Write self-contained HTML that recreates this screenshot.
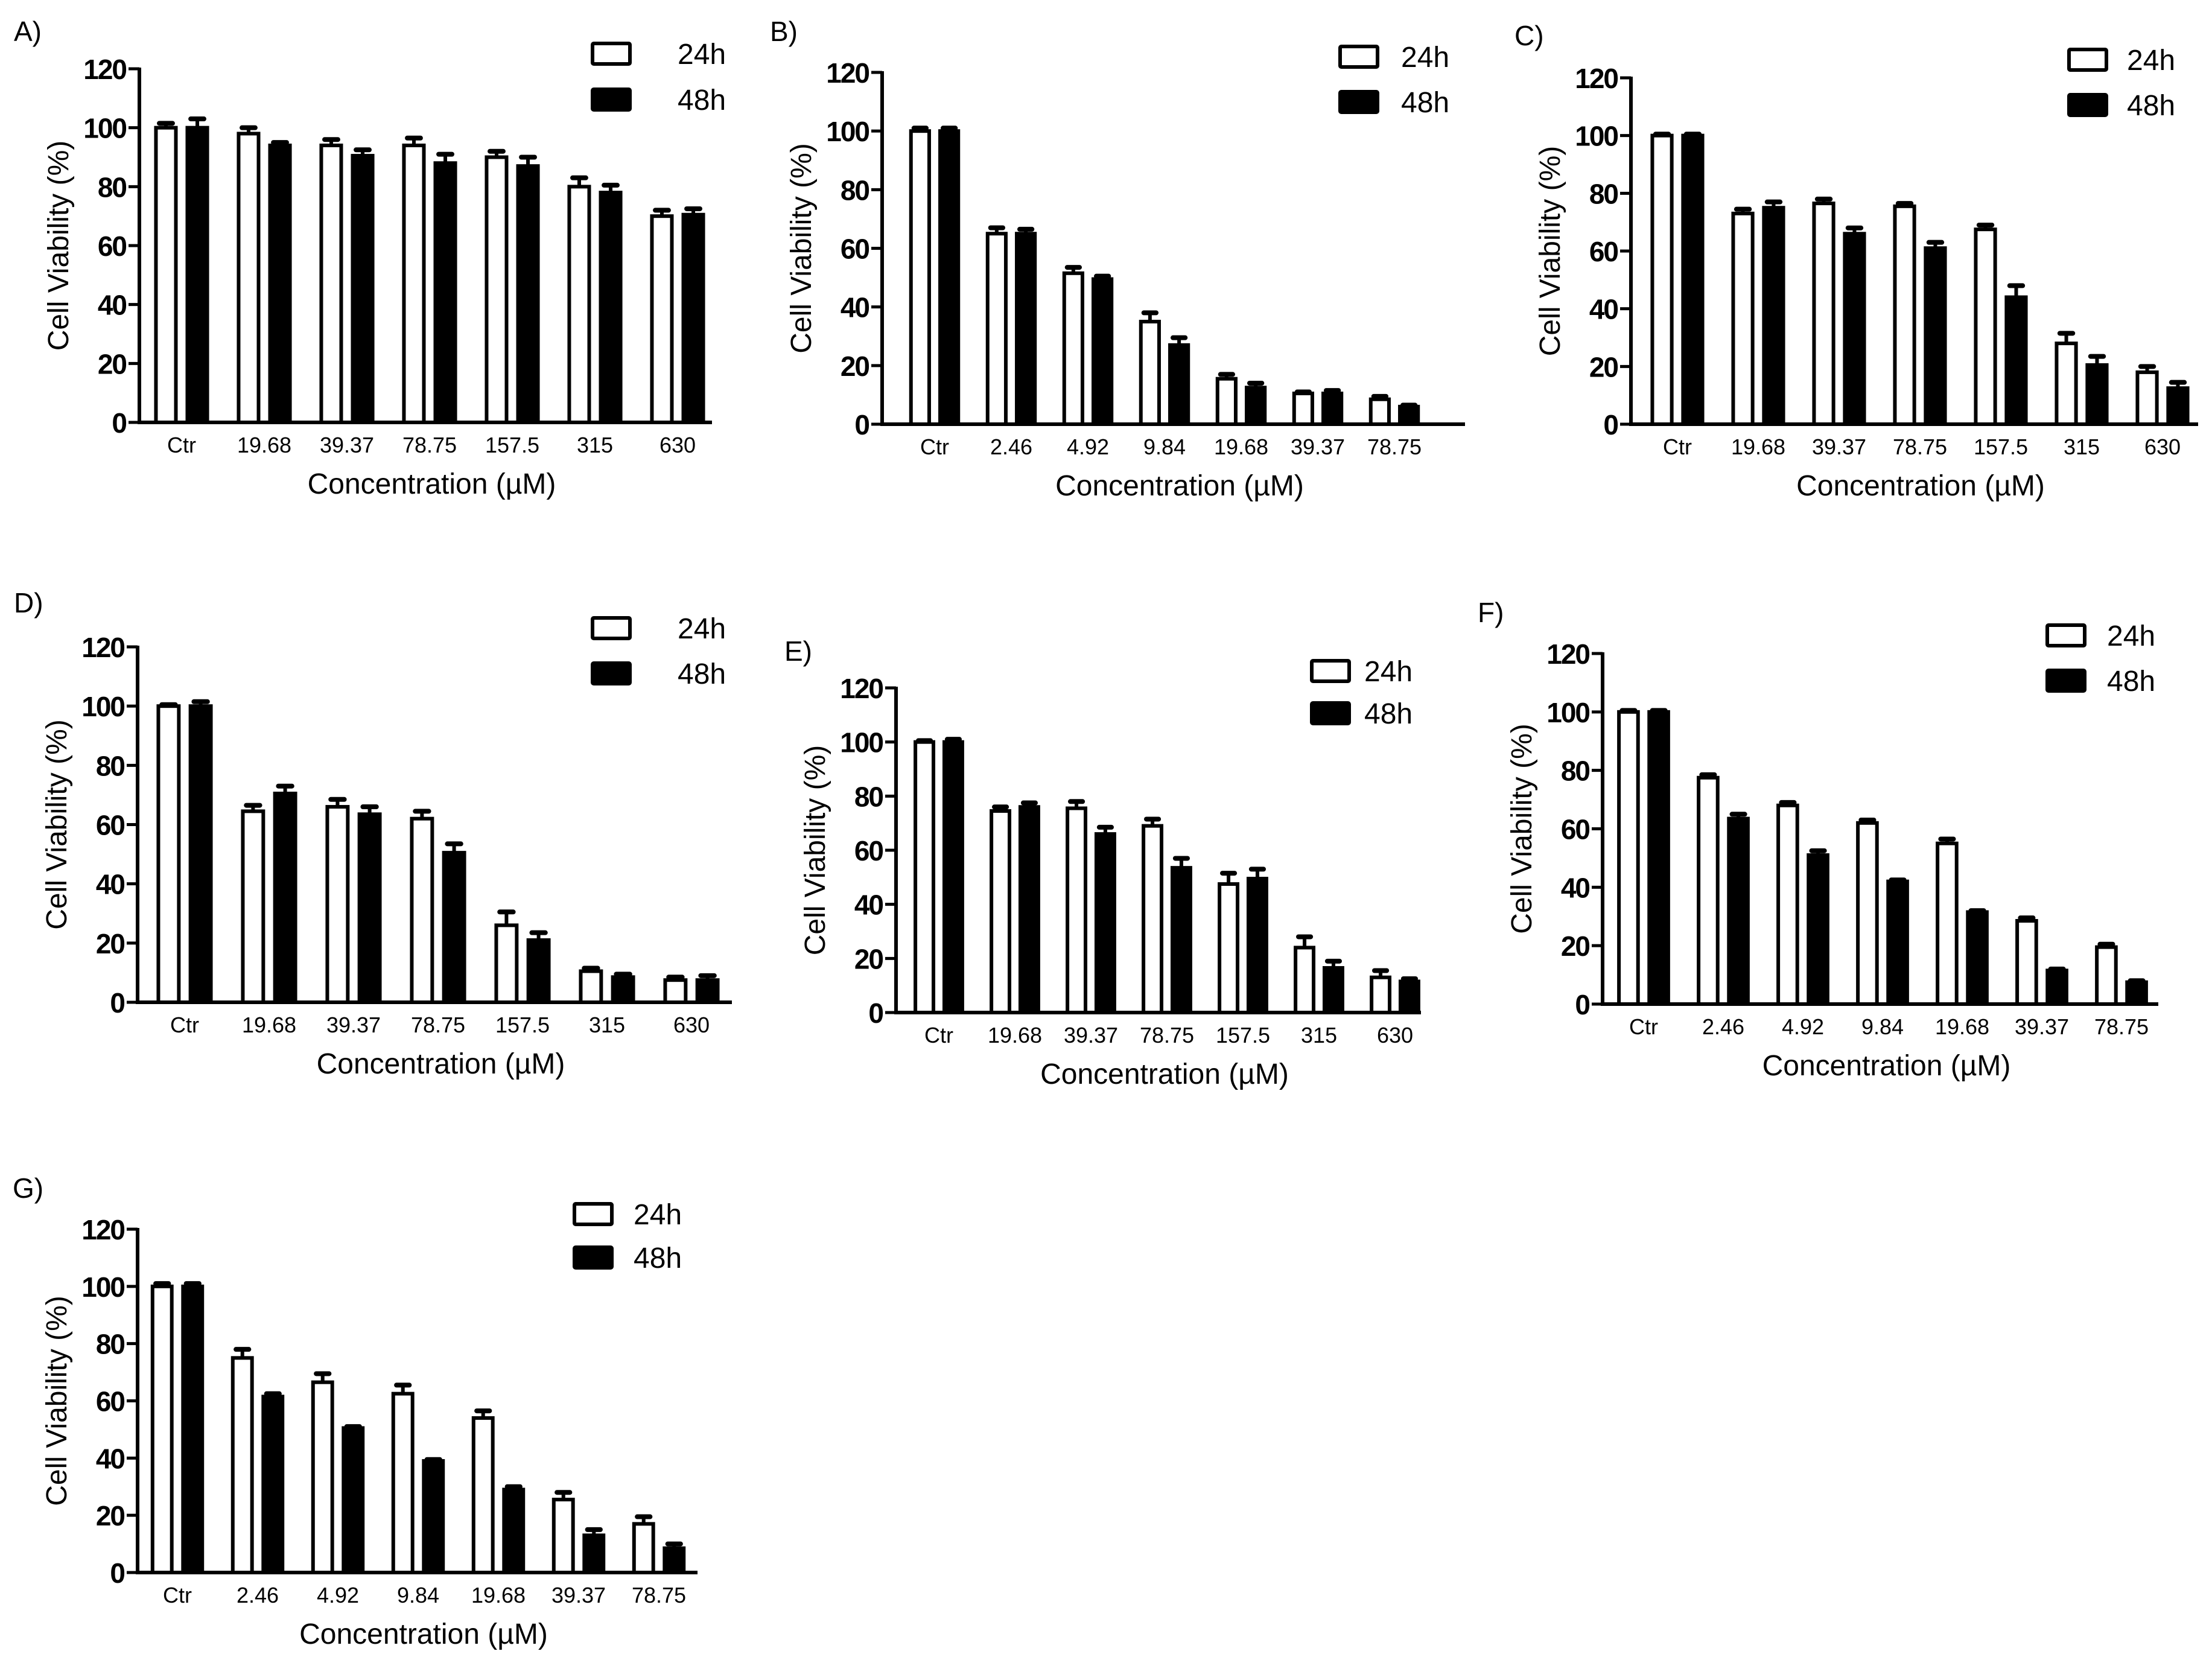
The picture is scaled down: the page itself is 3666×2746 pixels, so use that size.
<!DOCTYPE html>
<html><head><meta charset="utf-8"><style>
html,body{margin:0;padding:0;background:#fff;}
svg{display:block;font-family:"Liberation Sans",Arial,sans-serif;}
</style></head>
<body>
<svg id="fig" width="3666" height="2746" viewBox="0 0 3666 2746" xmlns="http://www.w3.org/2000/svg"></svg>
<script>
const yTicks = [0, 20, 40, 60, 80, 100, 120];
const catsHigh = ["Ctr", "19.68", "39.37", "78.75", "157.5", "315", "630"];
const catsLow = ["Ctr", "2.46", "4.92", "9.84", "19.68", "39.37", "78.75"];

const a24 = [100, 98, 94, 94, 90, 80, 70];
const a24e = [1.5, 2, 2, 2.5, 2, 3, 2];
const a48 = [100, 94, 90.5, 88, 87, 78, 70.5];
const a48e = [3, 1, 2, 3, 3, 2.5, 2];

const b24 = [100, 65, 51.5, 35, 15.5, 10.5, 8.5];
const b24e = [1, 2, 2, 3, 1.5, 0.5, 1];
const b48 = [100, 65, 49.5, 27, 12.5, 10.5, 6];
const b48e = [1, 1.5, 1, 2.5, 1.5, 1, 0.5];

const c24 = [100, 73, 76.5, 75.5, 67.5, 28, 18];
const c24e = [0.5, 1.5, 1.5, 1, 1.5, 3.5, 2];
const c48 = [100, 75, 66, 61, 44, 20.5, 12.5];
const c48e = [0.5, 2, 2, 2, 4, 3, 2];

const d24 = [100, 64.5, 66, 62, 26, 10.5, 7.5];
const d24e = [0.5, 2, 2.5, 2.5, 4.5, 1, 1];
const d48 = [100, 70.5, 63.5, 50.5, 21, 8.5, 7.5];
const d48e = [1.5, 2.5, 2.5, 3, 2.5, 1, 1.5];

const e24 = [100, 74.5, 75.5, 69, 47.5, 24, 13];
const e24e = [0.5, 1.5, 2.5, 2.5, 4, 4, 2.5];
const e48 = [100, 76, 66, 53.5, 49.5, 16.5, 11.5];
const e48e = [1, 1.5, 2.5, 3.5, 3.5, 2.5, 1];

const f24 = [100, 77.5, 68, 62, 55, 28.5, 19.5];
const f24e = [0.5, 1, 1, 1, 1.5, 1, 1];
const f48 = [100, 63.5, 51, 42, 31.5, 11.5, 7.5];
const f48e = [0.5, 1.5, 1.5, 0.5, 0.5, 0.5, 0.5];

const g24 = [100, 75, 66.5, 62.5, 54, 25.5, 17];
const g24e = [1, 3, 3, 3, 2.5, 2.5, 2.5];
const g48 = [100, 61.5, 50.5, 39, 29, 13, 8.5];
const g48e = [1, 1, 0.5, 0.5, 1, 2, 1.5];

const panels = [
  {id:"A", cats:catsHigh, v24:a24, e24:a24e, v48:a48, e48:a48e, ax:231, yTop:114, y0:700, xEnd:1180, c0:301, step:137, lx:23, ly:52, legX:982, legY:[89,165], legT:1123},
  {id:"B", cats:catsLow, v24:b24, e24:b24e, v48:b48, e48:b48e, ax:1462, yTop:120, y0:703, xEnd:2428, c0:1549, step:127, lx:1276, ly:52, legX:2221, legY:[94,169], legT:2322},
  {id:"C", cats:catsHigh, v24:c24, e24:c24e, v48:c48, e48:c48e, ax:2703, yTop:129, y0:703, xEnd:3643, c0:2780, step:134, lx:2510, ly:59, legX:3429, legY:[99,174], legT:3525},
  {id:"D", cats:catsHigh, v24:d24, e24:d24e, v48:d48, e48:d48e, ax:228, yTop:1072, y0:1661, xEnd:1213, c0:306, step:140, lx:23, ly:999, legX:982, legY:[1041,1116], legT:1123},
  {id:"E", cats:catsHigh, v24:e24, e24:e24e, v48:e48, e48:e48e, ax:1485, yTop:1140, y0:1678, xEnd:2355, c0:1556, step:126, lx:1300, ly:1079, legX:2174, legY:[1112,1182], legT:2261},
  {id:"F", cats:catsLow, v24:f24, e24:f24e, v48:f48, e48:f48e, ax:2656, yTop:1083, y0:1664, xEnd:3577, c0:2724, step:132, lx:2449, ly:1015, legX:3393, legY:[1053,1128], legT:3492},
  {id:"G", cats:catsLow, v24:g24, e24:g24e, v48:g48, e48:g48e, ax:228, yTop:2037, y0:2606, xEnd:1156, c0:294, step:133, lx:21, ly:1969, legX:952, legY:[2012,2084], legT:1050}
];

const NS = "http://www.w3.org/2000/svg";
const svg = document.getElementById("fig");
function mk(tag, attrs, parent) {
  const e = document.createElementNS(NS, tag);
  for (const k in attrs) e.setAttribute(k, attrs[k]);
  parent.appendChild(e);
  return e;
}

panels.forEach(p => {
  const g = mk("g", {}, svg);
  
  
  const yScale = v => p.y0 - (v / 120) * (p.y0 - p.yTop);
  const xCenter = i => p.c0 + i * p.step;
  const bw = p.step * 0.285, gap = p.step * 0.095;

  const lbl = mk("text", {x:p.lx, y:p.ly + 16, "font-size":46}, g);
  lbl.textContent = p.id + ")";
  
  

  p.cats.forEach((c, i) => {
    const cx = xCenter(i);
    const wx = cx - gap / 2 - bw, bx = cx + gap / 2;
    [[wx, p.v24[i], p.e24[i], "#fff", "24h"], [bx, p.v48[i], p.e48[i], "#000", "48h"]].forEach(([x, v, er, fill, s]) => {
      const yT = yScale(v), yE = yScale(v + er);
      const mid = x + bw / 2;
      const eb = mk("line", {x1:mid, x2:mid, y1:yT, y2:yE, stroke:"#000", "stroke-width":6}, g);
      
      
      const cap = mk("line", {x1:mid - bw * 0.28, x2:mid + bw * 0.28, y1:yE, y2:yE, stroke:"#000", "stroke-width":8, "stroke-linecap":"round"}, g);
      
      
      const r = mk("rect", {x:x + 3, y:yT, width:bw - 6, height:p.y0 - yT, fill:fill, stroke:"#000", "stroke-width":6}, g);
      
      
    });
    const t = mk("text", {x:cx, y:p.y0 + 50, "font-size":36, "text-anchor":"middle"}, g);
    t.textContent = c;
    
    
  });

  const ya = mk("line", {x1:p.ax, x2:p.ax, y1:p.yTop - 2, y2:p.y0 + 3, stroke:"#000", "stroke-width":6}, g);
  
  
  const xa = mk("line", {x1:p.ax - 3, x2:p.xEnd, y1:p.y0, y2:p.y0, stroke:"#000", "stroke-width":6}, g);
  
  
  yTicks.forEach(v => {
    const y = yScale(v);
    const tk = mk("line", {x1:p.ax - 18, x2:p.ax, y1:y, y2:y, stroke:"#000", "stroke-width":5}, g);
    
    
    const tl = mk("text", {x:p.ax - 22, y:y + 17, "font-size":46, "font-weight":"bold", "text-anchor":"end", "letter-spacing":-2}, g);
    tl.textContent = v;
    
    
  });
  const yl = mk("text", {x:0, y:0, "font-size":48, "text-anchor":"middle", transform:`translate(${p.ax - 118},${(p.yTop + p.y0) / 2}) rotate(-90)`}, g);
  yl.textContent = "Cell Viability (%)";
  
  
  const xl = mk("text", {x:(p.ax + p.xEnd) / 2 + 10, y:p.y0 + 118, "font-size":48, "text-anchor":"middle"}, g);
  xl.textContent = "Concentration (\u00b5M)";
  
  

  [["24h", "#fff"], ["48h", "#000"]].forEach(([s, fill], k) => {
    const cy = p.legY[k];
    const lb = mk("rect", {x:p.legX, y:cy - 17, width:62, height:34, fill:fill, stroke:"#000", "stroke-width":6, rx:2}, g);
    
    
    const lt = mk("text", {x:p.legT, y:cy + 17, "font-size":48}, g);
    lt.textContent = s;
    
    
  });
});
</script>
</body></html>
